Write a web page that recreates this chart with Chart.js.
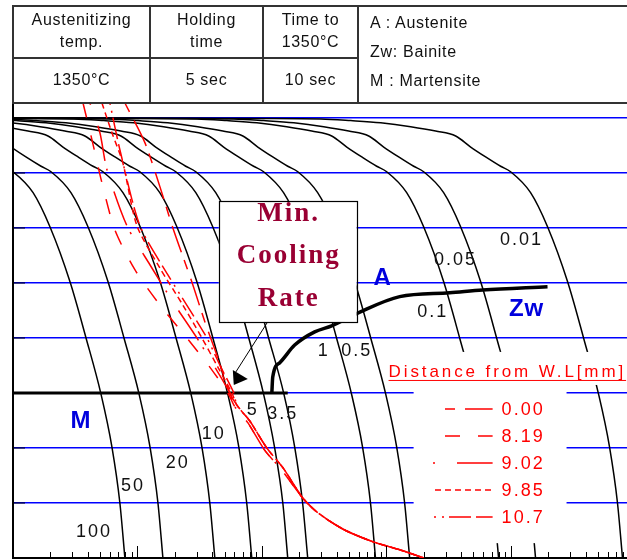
<!DOCTYPE html>
<html>
<head>
<meta charset="utf-8">
<script src="https://cdn.jsdelivr.net/npm/chart.js@4.4.1/dist/chart.umd.min.js"></script>
<style>
  body { margin: 0; background: #fff; }
  #wrap { position: relative; width: 627px; height: 560px; overflow: hidden; font-family: "Liberation Sans", Arial, sans-serif; }
  #cct { position: absolute; left: 0; top: 0; }
  .ln { position: absolute; background: #333; }
  .cell { position: absolute; text-align: center; font-size: 16px; line-height: 22px; color: #111; letter-spacing: 0.7px; }
  .key { position: absolute; left: 370px; top: 8px; font-size: 16px; line-height: 29px; color: #111; letter-spacing: 0.7px; }
</style>
</head>
<body>
<div id="wrap">
  <canvas id="cct" width="627" height="560"></canvas>

  <!-- condition table -->
  <div class="ln" style="left:12px;top:5px;width:620px;height:2px"></div>
  <div class="ln" style="left:12px;top:57px;width:346px;height:2px"></div>
  <div class="ln" style="left:12px;top:102px;width:620px;height:2px"></div>
  <div class="ln" style="left:12px;top:5px;width:2px;height:99px"></div>
  <div class="ln" style="left:149px;top:5px;width:2px;height:99px"></div>
  <div class="ln" style="left:262px;top:5px;width:2px;height:99px"></div>
  <div class="ln" style="left:357px;top:5px;width:2px;height:99px"></div>

  <div class="cell" style="left:14px;top:9px;width:135px">Austenitizing<br>temp.</div>
  <div class="cell" style="left:151px;top:9px;width:111px">Holding<br>time</div>
  <div class="cell" style="left:264px;top:9px;width:93px">Time to<br>1350°C</div>
  <div class="cell" style="left:14px;top:69px;width:135px">1350°C</div>
  <div class="cell" style="left:151px;top:69px;width:111px">5 sec</div>
  <div class="cell" style="left:264px;top:69px;width:93px">10 sec</div>
  <div class="key">A : Austenite<br>Zw: Bainite<br>M : Martensite</div>
</div>

<script>
// temperatures (°C) where every cooling curve was read
const coolTemps = [900, 899, 898, 895, 891, 884, 876, 867, 847, 829, 812, 802, 764, 702, 602, 500, 398, 302, 200, 100];

// times (s) of each cooling curve at those temperatures
const t100 = [0.0001, 0.0099, 0.030, 0.052, 0.091, 0.158, 0.25, 0.36, 0.48, 0.63, 0.83, 1.0, 1.45, 1.98, 2.87, 3.86, 5.09, 6.23, 7.22, 7.92];
const t50 = [0.0002, 0.020, 0.060, 0.105, 0.183, 0.318, 0.505, 0.73, 0.965, 1.27, 1.68, 2.02, 2.92, 4.0, 5.8, 7.79, 10.3, 12.6, 14.6, 16.0];
const t20 = [0.0005, 0.052, 0.158, 0.275, 0.478, 0.832, 1.32, 1.91, 2.52, 3.33, 4.39, 5.28, 7.64, 10.5, 15.2, 20.4, 26.9, 32.9, 38.1, 41.8];
const t10 = [0.001, 0.103, 0.312, 0.543, 0.946, 1.65, 2.61, 3.78, 4.99, 6.58, 8.68, 10.45, 15.1, 20.7, 30.0, 40.3, 53.1, 65.1, 75.4, 82.8];
const t5 = [0.002, 0.2, 0.607, 1.06, 1.84, 3.2, 5.08, 7.35, 9.7, 12.8, 16.9, 20.3, 29.4, 40.2, 58.3, 78.3, 103, 126, 147, 161];
const t3_5 = [0.003, 0.29, 0.879, 1.53, 2.66, 4.63, 7.35, 10.6, 14.0, 18.5, 24.4, 29.4, 42.5, 58.2, 84.4, 113, 150, 183, 212, 233];
const t1 = [0.01, 1.02, 3.08, 5.36, 9.32, 16.2, 25.8, 37.3, 49.2, 64.9, 85.6, 103, 149, 204, 296, 397, 524, 642, 744, 816];
const t0_5 = [0.02, 1.91, 5.8, 10.1, 17.5, 30.5, 48.5, 70.2, 92.6, 122, 161, 194, 280, 384, 556, 747, 986, 1207, 1399, 1535];
const t0_1 = [0.1, 9.9, 30.0, 52.2, 90.9, 158, 251, 363, 480, 633, 834, 1004, 1453, 1988, 2881, 3870, 5106, 6255, 7249, 7952];
const t0_05 = [0.2, 19.6, 59.5, 103, 180, 313, 497, 720, 950, 1253, 1653, 1989, 2878, 3938, 5708, 7668, 10116, 12391, 14361, 15753];
const t0_01 = [1, 98, 297, 516, 899, 1564, 2483, 3595, 4745, 6257, 8254, 9932, 14372, 19665, 28505, 38288, 50514, 61876, 71709, 78661];

const coolTimes = [t100, t50, t20, t10, t5, t3_5, t1, t0_5, t0_1, t0_05, t0_01];
const rateLabels = ['100', '50', '20', '10', '5', '3.5', '1', '0.5', '0.1', '0.05', '0.01'];
// where each rate label sits [time, temp]
const rateLabelAt = [[4.47, 147], [9.19, 231], [21.1, 273], [41, 325], [84.4, 369], [147, 362], [313, 476], [576, 476], [2350, 547], [3590, 642], [12170, 678]];

// simulated HAZ cycles, distance from weld line (mm)
const redDistances = ['0.00', '8.19', '9.02', '9.85', '10.7'];
const red000Times = [7.92, 11.46, 15.13, 19.24, 27.3, 35.4, 43.4, 55.2, 62.8, 79.8, 109.3, 149.6, 209, 265, 350, 479, 789, 1276, 1990];
const red000Temps = [927, 855, 775, 700, 602, 524, 469, 400, 378, 349, 300, 262, 211, 187, 167, 149, 129, 115, 100];
const red819Times = [3.65, 4.31, 5.18, 6.59, 9.53, 15.13, 24.9, 38.1, 53.2, 60.5, 76.9, 105, 144, 209, 265, 350, 479, 789, 1276, 1990];
const red819Temps = [927, 860, 782, 696, 624, 560, 500, 447, 400, 375, 346, 296, 260, 211, 187, 167, 149, 129, 115, 100];
const red902Times = [4.15, 4.99, 5.68, 8.22, 12.58, 19.96, 30.0, 41.8, 55.2, 60.5, 76.9, 105, 144, 209, 265, 350, 479, 789, 1276, 1990];
const red902Temps = [927, 873, 806, 704, 633, 560, 500, 447, 400, 375, 346, 296, 260, 211, 187, 167, 149, 129, 115, 100];
const red985Times = [5.18, 6.23, 7.63, 9.89, 15.13, 23.1, 32.9, 44.2, 57.3, 62.8, 79.8, 109.3, 149.6, 209, 265, 350, 479, 789, 1276, 1990];
const red985Temps = [927, 873, 818, 704, 627, 560, 500, 447, 400, 378, 349, 300, 262, 211, 187, 167, 149, 129, 115, 100];
const red107Times = [6.0, 7.22, 10.45, 17.5, 26.3, 36.1, 46.7, 59.4, 62.8, 79.8, 109.3, 149.6, 209, 265, 350, 479, 789, 1276, 1990];
const red107Temps = [927, 842, 704, 615, 551, 500, 447, 400, 378, 349, 300, 262, 211, 187, 167, 149, 129, 115, 100];

// bainite start and Ms
const bainiteTimes = [120, 122, 139, 183, 265, 363, 587, 1277, 3215, 5916, 19660];
const bainiteTemps = [400, 429, 455, 487, 511, 522, 545, 575, 582, 587, 593];
const msTimes = [1, 161];
const msTemps = [400, 400];

// axis ticks
const tempGrid = [200, 300, 400, 500, 600, 700, 800, 900];
const xTickBase = [1, 10, 100, 1000, 10000];
const xTickSteps = [1, 2, 3, 4, 5, 6, 7, 8, 9];

// annotation placement in data units
const phaseLabels = [['A', 933, 609], ['Zw', 13340, 551], ['M', 3.51, 349]];
const minBox = { t0: 45, t1: 576, T0: 749, T1: 529 };
const minBoxText = ['Min.', 'Cooling', 'Rate'];
const arrowFrom = { t: 111, T: 529 };
const arrowTo = { t: 61.6, T: 438 };
const legendBox = { t0: 1652, t1: 27950, T0: 474.5, T1: 127 };
const legendBand = { t0: 985, T0: 474.5, T1: 414.5 };

const redDash = [[10, 10, 28, 8], [15, 18], [2, 22, 36, 8], [6, 4], [2, 6, 2, 5, 22, 5, 17, 6]];
const redSampleStart = [445, 445, 433, 435, 434];

const pts = (ts, Ts) => ts.map((t, i) => ({ x: t, y: Ts[i] }));

const datasets = [];
const redSeries = [[red000Times, red000Temps], [red819Times, red819Temps], [red902Times, red902Temps], [red985Times, red985Temps], [red107Times, red107Temps]];
redSeries.forEach((s, i) => {
  datasets.push({
    data: pts(s[0], s[1]), borderColor: '#ff0000', borderWidth: 1.5, borderDash: redDash[i],
    cubicInterpolationMode: 'default', tension: 0.25, order: 0
  });
});
datasets.push({ data: pts(bainiteTimes, bainiteTemps), borderColor: '#000', borderWidth: 3.5, order: 1 });
datasets.push({ data: pts(msTimes, msTemps), borderColor: '#000', borderWidth: 3, order: 1 });
coolTimes.forEach(ts => {
  datasets.push({ data: pts(ts, coolTemps), borderColor: '#000', borderWidth: 1.5, order: 2 });
});

// boxes, labels, legend and inward ticks
const decor = {
  id: 'decor',
  afterDatasetsDraw(chart) {
    const { ctx, chartArea: a, scales: { x, y } } = chart;
    const px = t => x.getPixelForValue(t);
    const py = T => y.getPixelForValue(T);
    ctx.save();

    // rate labels
    ctx.fillStyle = '#111';
    ctx.font = '18px "Liberation Sans", Arial';
    ctx.letterSpacing = '2px';
    ctx.textAlign = 'center';
    ctx.textBaseline = 'middle';
    rateLabels.forEach((s, i) => ctx.fillText(s, px(rateLabelAt[i][0]), py(rateLabelAt[i][1])));

    // phase labels
    ctx.fillStyle = '#0000dd';
    ctx.font = 'bold 24px "Liberation Sans", Arial';
    ctx.letterSpacing = '1px';
    phaseLabels.forEach(p => ctx.fillText(p[0], px(p[1]), py(p[2])));

    // legend area
    const lx0 = px(legendBox.t0), lx1 = px(legendBox.t1), ly0 = py(legendBox.T0), ly1 = py(legendBox.T1);
    ctx.fillStyle = '#fff';
    ctx.fillRect(lx0, ly0, lx1 - lx0, ly1 - ly0);
    ctx.fillRect(px(legendBand.t0), py(legendBand.T0), a.right - px(legendBand.t0), py(legendBand.T1) - py(legendBand.T0));
    ctx.fillStyle = '#ff0000';
    ctx.strokeStyle = '#ff0000';
    ctx.font = '17px "Liberation Sans", Arial';
    ctx.letterSpacing = '2.9px';
    ctx.textBaseline = 'alphabetic';
    const title = 'Distance from W.L[mm]';
    const tcx = (px(legendBand.t0) + a.right) / 2 + 1;
    ctx.fillText(title, tcx, ly0 + 25);
    const tw = ctx.measureText(title).width;
    ctx.lineWidth = 1;
    ctx.beginPath();
    ctx.moveTo(tcx - tw / 2, ly0 + 28.5);
    ctx.lineTo(tcx + tw / 2, ly0 + 28.5);
    ctx.stroke();

    ctx.font = '18px "Liberation Sans", Arial';
    ctx.letterSpacing = '2px';
    ctx.textAlign = 'left';
    ctx.textBaseline = 'middle';
    ctx.lineWidth = 1.5;
    redDistances.forEach((d, i) => {
      const yy = ly0 + 57 + 27 * i;
      ctx.setLineDash(redDash[i]);
      ctx.beginPath();
      ctx.moveTo(redSampleStart[i], yy);
      ctx.lineTo(lx0 + 79, yy);
      ctx.stroke();
      ctx.setLineDash([]);
      ctx.fillText(d, lx0 + 88, yy + 1);
    });

    // minimum cooling rate box and arrow
    const bx0 = px(minBox.t0), bx1 = px(minBox.t1), by0 = py(minBox.T0), by1 = py(minBox.T1);
    ctx.fillStyle = '#fff';
    ctx.fillRect(bx0, by0, bx1 - bx0, by1 - by0);
    ctx.strokeStyle = '#000';
    ctx.lineWidth = 1.2;
    ctx.strokeRect(Math.round(bx0) + 0.5, Math.round(by0) + 0.5, Math.round(bx1 - bx0), Math.round(by1 - by0));
    ctx.fillStyle = '#990033';
    ctx.font = 'bold 27px "Liberation Serif", "Times New Roman", serif';
    ctx.letterSpacing = '2px';
    ctx.textAlign = 'center';
    ctx.textBaseline = 'alphabetic';
    minBoxText.forEach((s, i) => ctx.fillText(s, (bx0 + bx1) / 2 + 1, by0 + 20 + 42.5 * i));

    const ax0 = px(arrowFrom.t), ay0 = py(arrowFrom.T), ax1 = px(arrowTo.t), ay1 = py(arrowTo.T);
    ctx.lineWidth = 1;
    ctx.beginPath();
    ctx.moveTo(ax0, ay0);
    ctx.lineTo(ax1, ay1);
    ctx.stroke();
    ctx.fillStyle = '#000';
    ctx.beginPath();
    ctx.moveTo(ax1 - 3, ay1 - 2);
    ctx.lineTo(ax1 - 2, ay1 + 13);
    ctx.lineTo(ax1 + 12, ay1 + 7);
    ctx.closePath();
    ctx.fill();

    // inward ticks on both axes
    ctx.strokeStyle = '#000';
    ctx.lineWidth = 2;
    ctx.beginPath();
    tempGrid.forEach(T => {
      const yy = Math.round(py(T));
      ctx.moveTo(a.left, yy);
      ctx.lineTo(a.left + 12, yy);
    });
    x.ticks.forEach(tk => {
      const xx = Math.round(px(tk.value)) + 0.5;
      if (xx <= a.left + 2 || xx > a.right) return;
      const major = xTickBase.includes(tk.value);
      ctx.moveTo(xx, a.bottom);
      ctx.lineTo(xx, a.bottom - (major ? 12 : 6));
    });
    ctx.lineWidth = 1;
    ctx.stroke();
    ctx.restore();
  }
};

new Chart(document.getElementById('cct'), {
  type: 'line',
  data: { datasets },
  options: {
    responsive: false,
    animation: false,
    layout: { padding: { left: 13, top: 103, right: 0, bottom: 2 } },
    plugins: { legend: { display: false }, tooltip: { enabled: false } },
    elements: { point: { radius: 0 }, line: { cubicInterpolationMode: 'monotone', fill: false } },
    scales: {
      x: {
        type: 'logarithmic', min: 1, max: 85500,
        afterBuildTicks: s => { s.ticks = xTickBase.flatMap(b => xTickSteps.map(k => ({ value: b * k }))).filter(t => t.value <= 85500); },
        grid: { display: false, drawTicks: false },
        ticks: { display: false },
        border: { display: true, color: '#000', width: 2 }
      },
      y: {
        type: 'linear', min: 100, max: 927,
        afterBuildTicks: s => { s.ticks = tempGrid.map(v => ({ value: v })); },
        grid: { color: '#0000ff', lineWidth: 1.6, drawTicks: false },
        ticks: { display: false },
        border: { display: true, color: '#000', width: 2 }
      }
    }
  },
  plugins: [decor]
});
</script>
</body>
</html>
